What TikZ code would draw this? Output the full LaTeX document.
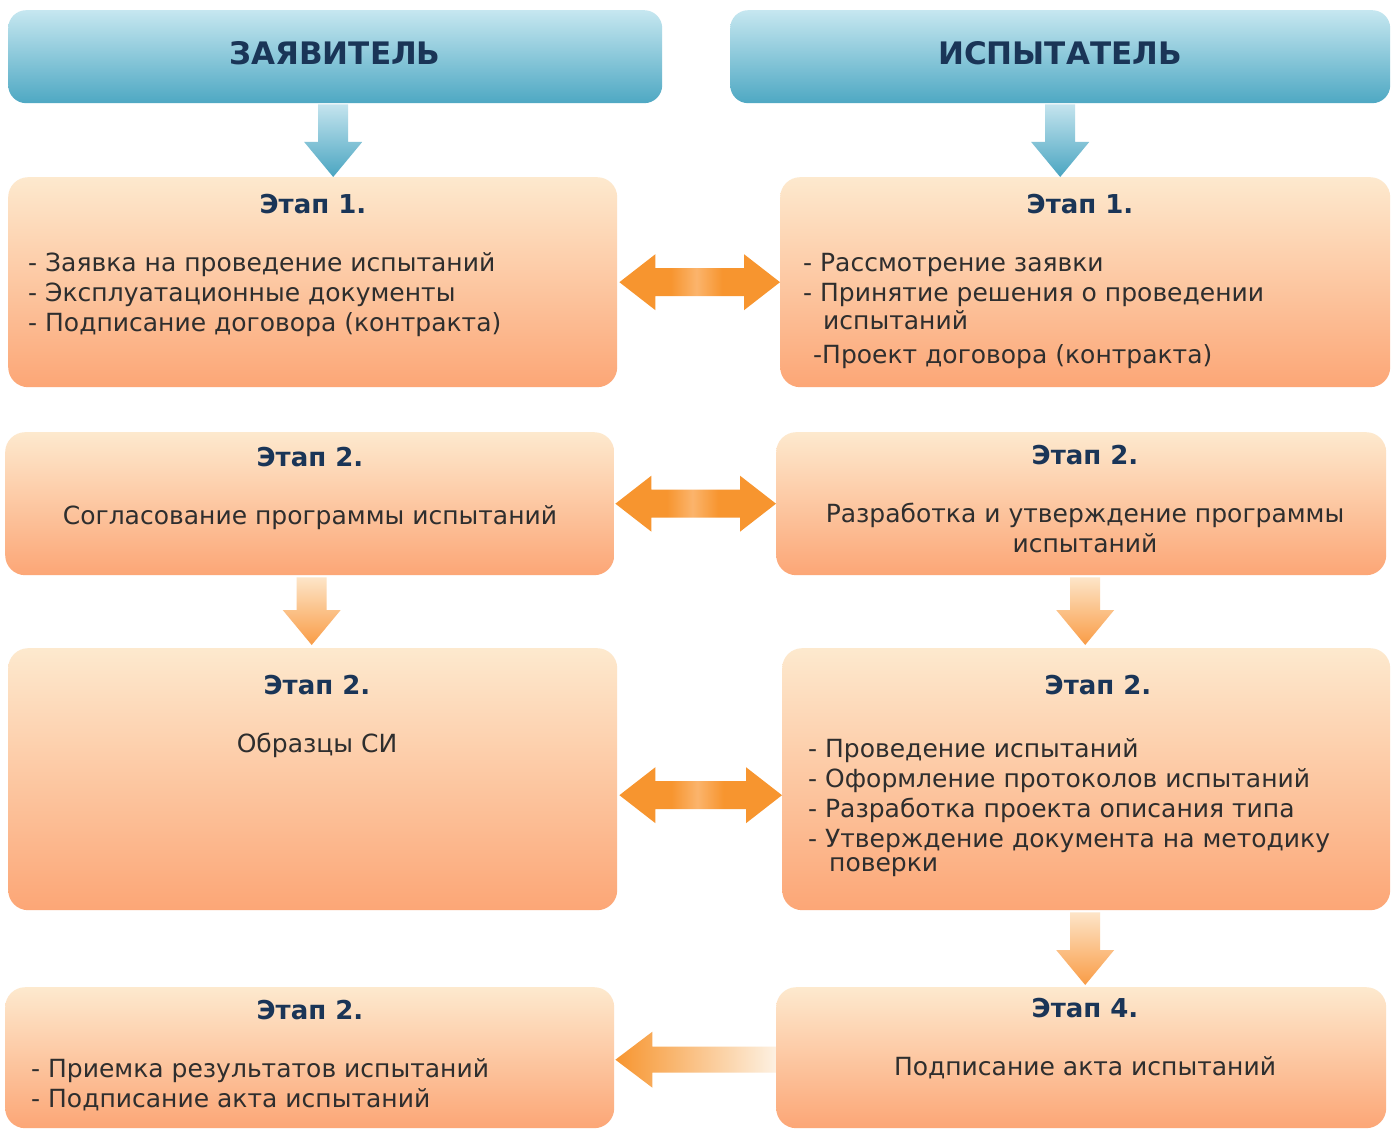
\documentclass[tikz,border=0pt]{standalone}
\usepackage{fontspec}
\setmainfont{DejaVu Sans}
\usetikzlibrary{calc}
\definecolor{boxtop}{HTML}{FDE9CE}
\definecolor{boxbot}{HTML}{FCA676}
\definecolor{hdtop}{HTML}{C6E7F0}
\definecolor{hdbot}{HTML}{4EA8C3}
\definecolor{navy}{HTML}{1A3557}
\definecolor{txt}{HTML}{2E2E2E}
\definecolor{aor}{HTML}{F7952F}
\definecolor{alt}{HTML}{FBB46C}
\definecolor{afade}{HTML}{FDF1E2}
\definecolor{dtop}{HTML}{FDE5C8}
\definecolor{dbot}{HTML}{F99C46}
\definecolor{btop}{HTML}{C4E4EE}
\definecolor{bbot}{HTML}{4AA5C1}
\pgfdeclarehorizontalshading{dblsh}{100bp}{color(0bp)=(aor); color(41bp)=(aor); color(49bp)=(alt); color(57bp)=(aor); color(100bp)=(aor)}
\tikzset{
  obox/.style={rounded corners=20pt, top color=boxtop, bottom color=boxbot, draw=none, inner sep=0pt, anchor=north west},
  hbox/.style={rounded corners=18pt, top color=hdtop, bottom color=hdbot, draw=none, inner sep=0pt, anchor=north west},
  hdtxt/.style={font=\fontsize{31}{33}\selectfont\bfseries, text=navy, anchor=base, inner sep=0pt},
  ttl/.style={font=\fontsize{26}{28}\selectfont\bfseries, text=navy, anchor=base, inner sep=0pt},
  body/.style={font=\fontsize{25}{27}\selectfont, text=txt, anchor=base west, inner sep=0pt},
  bodyc/.style={font=\fontsize{25}{27}\selectfont, text=txt, anchor=base, inner sep=0pt},
}
% double horizontal arrow between two points at the same height
\newcommand\dblarr[2]{%
  \path[shading=dblsh] let \p1=(#1), \p2=(#2) in
    (\x1,\y1) -- (\x1+36pt,\y1+28pt) -- (\x1+36pt,\y1+14pt) -- (\x2-36pt,\y1+14pt)
    -- (\x2-36pt,\y1+28pt) -- (\x2,\y1) -- (\x2-36pt,\y1-28pt) -- (\x2-36pt,\y1-14pt)
    -- (\x1+36pt,\y1-14pt) -- (\x1+36pt,\y1-28pt) -- cycle;}
% vertical down arrow from #1 (top) to #2 (tip)
\newcommand\downarr[4]{%
  \path[top color=#3, bottom color=#4] let \p1=(#1), \p2=(#2) in
    (\x1-15pt,\y1) -- (\x1+15pt,\y1) -- (\x1+15pt,\y2+35pt) -- (\x1+29pt,\y2+35pt)
    -- (\x1,\y2) -- (\x1-29pt,\y2+35pt) -- (\x1-15pt,\y2+35pt) -- cycle;}
\begin{document}
\begin{tikzpicture}[x=1pt,y=-1pt]
\useasboundingbox (0,0) rectangle (1392,1131);
\fill[white] (0,0) rectangle (1392,1131);

% headers
\node[hbox, minimum width=654pt, minimum height=93pt] (HL) at (8,10) {};
\node[hbox, minimum width=660pt, minimum height=93pt] (HR) at (730,10) {};
\node[hdtxt] (HLt) at (335,65) {ЗАЯВИТЕЛЬ};
\node[hdtxt] (HRt) at (1060,65) {ИСПЫТАТЕЛЬ};

% boxes
\node[obox, minimum width=609pt, minimum height=210pt] (L1) at (8,177) {};
\node[obox, minimum width=610pt, minimum height=210pt] (R1) at (780,177) {};
\node[obox, minimum width=609pt, minimum height=143pt] (L2) at (5,432) {};
\node[obox, minimum width=610pt, minimum height=143pt] (R2) at (776,432) {};
\node[obox, minimum width=609pt, minimum height=262pt] (L3) at (8,648) {};
\node[obox, minimum width=608pt, minimum height=262pt] (R3) at (782,648) {};
\node[obox, minimum width=609pt, minimum height=141pt] (L4) at (5,987) {};
\node[obox, minimum width=610pt, minimum height=141pt] (R4) at (776,987) {};

% blue arrows
\coordinate (bl1) at ($(HL.south)+(-2,1)$);
\coordinate (bl2) at (bl1 |- L1.north);
\downarr{bl1}{bl2}{btop}{bbot}
\coordinate (br1) at ($(HR.south)+(0,1)$);
\coordinate (br2) at (br1 |- R1.north);
\downarr{br1}{br2}{btop}{bbot}

% orange down arrows
\coordinate (dl1) at ($(L2.south)+(2,2)$);
\coordinate (dl2) at ($(dl1 |- L3.north)+(0,-3)$);
\downarr{dl1}{dl2}{dtop}{dbot}
\coordinate (dr1) at ($(R2.south)+(4,2)$);
\coordinate (dr2) at ($(dr1 |- R3.north)+(0,-3)$);
\downarr{dr1}{dr2}{dtop}{dbot}
\coordinate (dr3) at ($(R3.south)+(-1,2)$);
\coordinate (dr4) at ($(dr3 |- R4.north)+(0,-2)$);
\downarr{dr3}{dr4}{dtop}{dbot}

% double arrows
\coordinate (a1l) at ($(L1.east)+(2,0)$);
\coordinate (a1r) at (R1.west);
\dblarr{a1l}{a1r}
\coordinate (a2l) at ($(L2.east)+(1,0)$);
\coordinate (a2r) at (R2.west);
\dblarr{a2l}{a2r}
\coordinate (a3l) at ($(L3.east)+(2,16)$);
\coordinate (a3r) at ($(R3.west)+(0,16)$);
\dblarr{a3l}{a3r}

% left arrow (row 4)
\coordinate (a4l) at ($(L4.east)+(1,2)$);
\coordinate (a4r) at ($(R4.west)+(0,2)$);
\path[left color=aor, right color=afade] let \p1=(a4l), \p2=(a4r) in
  (\x1,\y1) -- (\x1+37pt,\y1+28pt) -- (\x1+37pt,\y1+13pt) -- (\x2,\y1+13pt)
  -- (\x2,\y1-13pt) -- (\x1+37pt,\y1-13pt) -- (\x1+37pt,\y1-28pt) -- cycle;

% texts row 1
\node[ttl] (L1t) at (313,214) {Этап 1.};
\node[body] (L1a) at (28,272) {- Заявка на проведение испытаний};
\node[body] (L1b) at (28,302) {- Эксплуатационные документы};
\node[body] (L1c) at (28,332) {- Подписание договора (контракта)};
\node[ttl] (R1t) at (1080,214) {Этап 1.};
\node[body] (R1a) at (803,272) {- Рассмотрение заявки};
\node[body] (R1b) at (803,302) {- Принятие решения о проведении};
\node[body] (R1c) at (823,330) {испытаний};
\node[body] (R1d) at (813,363) {-Проект договора (контракта)};

% row 2
\node[ttl] (L2t) at (310,466) {Этап 2.};
\node[bodyc] (L2a) at (310,524) {Согласование программы испытаний};
\node[ttl] (R2t) at (1085,464) {Этап 2.};
\node[bodyc] (R2a) at (1085,522) {Разработка и утверждение программы};
\node[bodyc] (R2b) at (1085,552) {испытаний};

% row 3
\node[ttl] (L3t) at (317,694) {Этап 2.};
\node[bodyc] (L3a) at (317,752) {Образцы СИ};
\node[ttl] (R3t) at (1098,694) {Этап 2.};
\node[body] (R3a) at (808,757) {- Проведение испытаний};
\node[body] (R3b) at (808,787) {- Оформление протоколов испытаний};
\node[body] (R3c) at (808,817) {- Разработка проекта описания типа};
\node[body] (R3d) at (808,847) {- Утверждение документа на методику};
\node[body] (R3e) at (829,871) {поверки};

% row 4
\node[ttl] (L4t) at (310,1019) {Этап 2.};
\node[body] (L4a) at (31,1077) {- Приемка результатов испытаний};
\node[body] (L4b) at (31,1107) {- Подписание акта испытаний};
\node[ttl] (R4t) at (1085,1017) {Этап 4.};
\node[bodyc] (R4a) at (1085,1075) {Подписание акта испытаний};
\end{tikzpicture}
\end{document}
